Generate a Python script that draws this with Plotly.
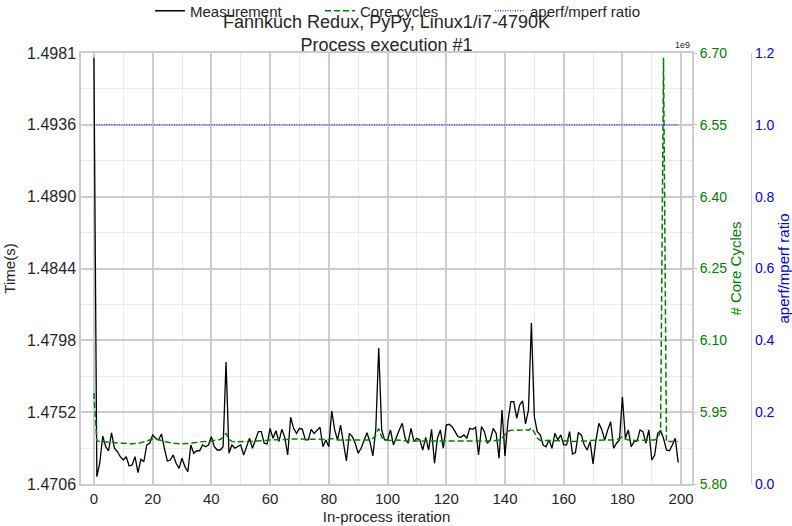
import plotly.graph_objects as go

iterations = list(range(200))

measurement = [
    1.4978, 1.47107, 1.47194, 1.47366, 1.47298, 1.47272, 1.47387, 1.47288, 1.47266, 1.47234,
    1.47213, 1.47234, 1.47175, 1.47181, 1.47234, 1.47132, 1.47218, 1.47202, 1.47309, 1.47320,
    1.47373, 1.47352, 1.47341, 1.47379, 1.47288, 1.47207, 1.47213, 1.47245, 1.47192, 1.47160,
    1.47224, 1.47170, 1.47138, 1.47309, 1.47256, 1.47272, 1.47272, 1.47309, 1.47298, 1.47309,
    1.47362, 1.47298, 1.47277, 1.47277, 1.47298, 1.47838, 1.47256, 1.47309, 1.47288, 1.47298,
    1.47309, 1.47245, 1.47302, 1.47352, 1.47288, 1.47341, 1.47394, 1.47394, 1.47320, 1.47315,
    1.47415, 1.47352, 1.47400, 1.47330, 1.47409, 1.47358, 1.47245, 1.47486, 1.47415, 1.47383,
    1.47415, 1.47409, 1.47341, 1.47341, 1.47409, 1.47383, 1.47405, 1.47422, 1.47298, 1.47341,
    1.47298, 1.47526, 1.47405, 1.47341, 1.47436, 1.47320, 1.47207, 1.47383, 1.47362, 1.47320,
    1.47256, 1.47288, 1.47341, 1.47387, 1.47330, 1.47239, 1.47405, 1.47928, 1.47405, 1.47341,
    1.47341, 1.47405, 1.47309, 1.47362, 1.47405, 1.47447, 1.47352, 1.47320, 1.47415, 1.47330,
    1.47352, 1.47341, 1.47277, 1.47358, 1.47277, 1.47409, 1.47192, 1.47352, 1.47405, 1.47288,
    1.47436, 1.47441, 1.47426, 1.47394, 1.47362, 1.47358, 1.47373, 1.47352, 1.47415, 1.47409,
    1.47422, 1.47245, 1.47426, 1.47394, 1.47320, 1.47341, 1.47415, 1.47383, 1.47224, 1.47532,
    1.47239, 1.47457, 1.47585, 1.47585, 1.47479, 1.47564, 1.47591, 1.47443, 1.47532, 1.48087,
    1.47489, 1.47394, 1.47373, 1.47309, 1.47298, 1.47341, 1.47288, 1.47383, 1.47341, 1.47373,
    1.47309, 1.47309, 1.47394, 1.47251, 1.47260, 1.47387, 1.47373, 1.47309, 1.47277, 1.47330,
    1.47188, 1.47341, 1.47447, 1.47405, 1.47341, 1.47405, 1.47457, 1.47288, 1.47320, 1.47341,
    1.47615, 1.47352, 1.47405, 1.47298, 1.47330, 1.47334, 1.47405, 1.47394, 1.47320, 1.47405,
    1.47213, 1.47245, 1.47383, 1.47400, 1.47352, 1.47277, 1.47272, 1.47309, 1.47352, 1.47196,
]

# core cycles, in units of 1e9
core_cycles = [
    5.990, 5.890, 5.889, 5.888, 5.888, 5.887, 5.887, 5.886, 5.886, 5.885,
    5.885, 5.884, 5.884, 5.884, 5.884, 5.885, 5.886, 5.888, 5.891, 5.893,
    5.894, 5.894, 5.893, 5.891, 5.889, 5.887, 5.886, 5.885, 5.884, 5.884,
    5.884, 5.884, 5.884, 5.885, 5.886, 5.887, 5.888, 5.888, 5.889, 5.889,
    5.890, 5.890, 5.891, 5.893, 5.897, 5.906, 5.893, 5.889, 5.888, 5.888,
    5.888, 5.888, 5.889, 5.889, 5.889, 5.890, 5.890, 5.891, 5.891, 5.891,
    5.892, 5.892, 5.892, 5.892, 5.893, 5.893, 5.893, 5.894, 5.894, 5.894,
    5.894, 5.894, 5.894, 5.894, 5.894, 5.894, 5.894, 5.893, 5.893, 5.893,
    5.893, 5.895, 5.893, 5.892, 5.892, 5.892, 5.891, 5.891, 5.891, 5.891,
    5.891, 5.891, 5.891, 5.891, 5.892, 5.895, 5.902, 5.916, 5.898, 5.892,
    5.891, 5.891, 5.892, 5.892, 5.891, 5.891, 5.890, 5.890, 5.890, 5.890,
    5.890, 5.890, 5.889, 5.889, 5.889, 5.889, 5.889, 5.889, 5.889, 5.889,
    5.890, 5.890, 5.890, 5.890, 5.890, 5.890, 5.890, 5.890, 5.890, 5.890,
    5.890, 5.890, 5.890, 5.890, 5.890, 5.890, 5.890, 5.891, 5.892, 5.896,
    5.902, 5.910, 5.912, 5.913, 5.913, 5.912, 5.913, 5.914, 5.912, 5.917,
    5.908, 5.896, 5.891, 5.891, 5.890, 5.890, 5.890, 5.890, 5.890, 5.890,
    5.890, 5.890, 5.890, 5.889, 5.889, 5.890, 5.890, 5.890, 5.890, 5.891,
    5.891, 5.892, 5.892, 5.892, 5.892, 5.892, 5.892, 5.892, 5.893, 5.895,
    5.899, 5.894, 5.892, 5.891, 5.891, 5.891, 5.891, 5.891, 5.891, 5.891,
    5.891, 5.892, 5.896, 5.909, 6.690, 5.888, 5.889, 5.889, 5.889, 5.889,
]

aperf_mperf = [
    1.0, 1.0, 1.0, 1.0, 1.0, 1.0, 1.0, 1.0, 1.0, 1.0, 1.0, 1.0, 1.0, 1.0, 1.0, 1.0, 1.0, 1.0, 1.0, 1.0,
    1.0, 1.0, 1.0, 1.0, 1.0, 1.0, 1.0, 1.0, 1.0, 1.0, 1.0, 1.0, 1.0, 1.0, 1.0, 1.0, 1.0, 1.0, 1.0, 1.0,
    1.0, 1.0, 1.0, 1.0, 1.0, 1.0, 1.0, 1.0, 1.0, 1.0, 1.0, 1.0, 1.0, 1.0, 1.0, 1.0, 1.0, 1.0, 1.0, 1.0,
    1.0, 1.0, 1.0, 1.0, 1.0, 1.0, 1.0, 1.0, 1.0, 1.0, 1.0, 1.0, 1.0, 1.0, 1.0, 1.0, 1.0, 1.0, 1.0, 1.0,
    1.0, 1.0, 1.0, 1.0, 1.0, 1.0, 1.0, 1.0, 1.0, 1.0, 1.0, 1.0, 1.0, 1.0, 1.0, 1.0, 1.0, 1.0, 1.0, 1.0,
    1.0, 1.0, 1.0, 1.0, 1.0, 1.0, 1.0, 1.0, 1.0, 1.0, 1.0, 1.0, 1.0, 1.0, 1.0, 1.0, 1.0, 1.0, 1.0, 1.0,
    1.0, 1.0, 1.0, 1.0, 1.0, 1.0, 1.0, 1.0, 1.0, 1.0, 1.0, 1.0, 1.0, 1.0, 1.0, 1.0, 1.0, 1.0, 1.0, 1.0,
    1.0, 1.0, 1.0, 1.0, 1.0, 1.0, 1.0, 1.0, 1.0, 1.0, 1.0, 1.0, 1.0, 1.0, 1.0, 1.0, 1.0, 1.0, 1.0, 1.0,
    1.0, 1.0, 1.0, 1.0, 1.0, 1.0, 1.0, 1.0, 1.0, 1.0, 1.0, 1.0, 1.0, 1.0, 1.0, 1.0, 1.0, 1.0, 1.0, 1.0,
    1.0, 1.0, 1.0, 1.0, 1.0, 1.0, 1.0, 1.0, 1.0, 1.0, 1.0, 1.0, 1.0, 1.0, 1.0, 1.0, 1.0, 1.0, 1.0, 1.0,
]

time_ticks = [1.4706, 1.4752, 1.4798, 1.4844, 1.4890, 1.4936, 1.4981]
time_range = [1.4706, 1.4981]
cycle_ticks = [5.80, 5.95, 6.10, 6.25, 6.40, 6.55, 6.70]
ratio_ticks = [0.0, 0.2, 0.4, 0.6, 0.8, 1.0, 1.2]
x_ticks = [0, 20, 40, 60, 80, 100, 120, 140, 160, 180, 200]

# evenly spaced positions for the time axis (labels are rounded)
n = len(time_ticks) - 1
time_pos = [time_range[0] + (time_range[1] - time_range[0]) * k / n for k in range(n + 1)]
time_minor = [(time_pos[k] + time_pos[k + 1]) / 2 for k in range(n)]

FONT = "Liberation Sans, Arial, sans-serif"
TXT = "#262626"
GRID = "#cccccc"
MINOR = "#ebebeb"
GREEN = "#008000"
BLUE = "#0000ff"

fig = go.Figure()
fig.add_trace(go.Scatter(x=iterations, y=measurement, mode="lines", name="Measurement",
                         line=dict(color="black", width=1.3), yaxis="y"))
fig.add_trace(go.Scatter(x=iterations, y=core_cycles, mode="lines", name="Core cycles",
                         line=dict(color=GREEN, width=1.5, dash="6px,3px"), yaxis="y2"))
fig.add_trace(go.Scatter(x=iterations, y=aperf_mperf, mode="lines", name="aperf/mperf ratio",
                         line=dict(color=BLUE, width=1, dash="1px,1.5px"), yaxis="y3"))

L, R = 81, 10
paper_w = 792 - L - R
x_end = (692 - L) / paper_w
y3_pos = (751 - L) / paper_w

fig.update_layout(
    width=792, height=526,
    margin=dict(l=L, r=R, t=53, b=42, autoexpand=False),
    paper_bgcolor="white", plot_bgcolor="white",
    font=dict(family=FONT, color=TXT, size=15),
    title=dict(text="Fannkuch Redux, PyPy, Linux1/i7-4790K<br>Process execution #1",
               x=(386.5) / 792, xanchor="center", y=1 - 28 / 526, yanchor="middle",
               font=dict(size=18, color=TXT)),
    showlegend=True,
    legend=dict(orientation="h", x=150 / 792, xref="container", xanchor="left",
                y=1 - 11 / 526, yref="container", yanchor="middle",
                bgcolor="rgba(0,0,0,0)", font=dict(size=15, color=TXT),
                entrywidth=125, entrywidthmode="pixels", tracegroupgap=0),
    xaxis=dict(domain=[0, x_end], range=[-4.4, 203.7],
               tickvals=x_ticks, ticks="", tickfont=dict(size=15, color=TXT),
               showgrid=True, gridcolor=GRID, gridwidth=1.5,
               minor=dict(showgrid=True, tickvals=[k + 10 for k in x_ticks[:-1]],
                          gridcolor=MINOR, gridwidth=1),
               showline=True, linecolor=GRID, linewidth=1.5, mirror=True,
               zeroline=False,
               title=dict(text="In-process iteration", font=dict(size=15, color=TXT), standoff=6)),
    yaxis=dict(range=time_range, tickvals=time_pos, ticktext=[f"{v:.4f}" for v in time_ticks],
               ticks="", tickfont=dict(size=16, color=TXT),
               showgrid=True, gridcolor=GRID, gridwidth=1.5,
               minor=dict(showgrid=True, tickvals=time_minor, gridcolor=MINOR, gridwidth=1),
               showline=True, linecolor=GRID, linewidth=1.5, mirror=True,
               zeroline=False,
               title=dict(text="Time(s)", font=dict(size=15, color=TXT), standoff=8)),
    yaxis2=dict(range=[5.80, 6.70], tickvals=cycle_ticks, ticktext=[f"{v:.2f}" for v in cycle_ticks],
                overlaying="y", side="right", anchor="x",
                ticks="outside", ticklen=4, tickcolor=GRID,
                tickfont=dict(size=14, color=GREEN), showgrid=False, zeroline=False,
                showline=False,
                title=dict(text="# Core Cycles", font=dict(size=15, color=GREEN), standoff=2)),
    yaxis3=dict(range=[0, 1.2], tickvals=ratio_ticks, ticktext=[f"{v:.1f}" for v in ratio_ticks],
                overlaying="y", side="right", anchor="free", position=y3_pos,
                ticks="", tickfont=dict(size=14, color=BLUE), showgrid=False, zeroline=False,
                showline=True, linecolor=GRID, linewidth=1.2,
                title=dict(text="aperf/mperf ratio", font=dict(size=15, color=BLUE), standoff=3)),
)

fig.add_annotation(text="1e9", x=x_end, xref="paper", y=1, yref="paper",
                   xanchor="right", yanchor="bottom", showarrow=False,
                   font=dict(size=9, color=TXT), yshift=1)

fig.write_html("out.html")
